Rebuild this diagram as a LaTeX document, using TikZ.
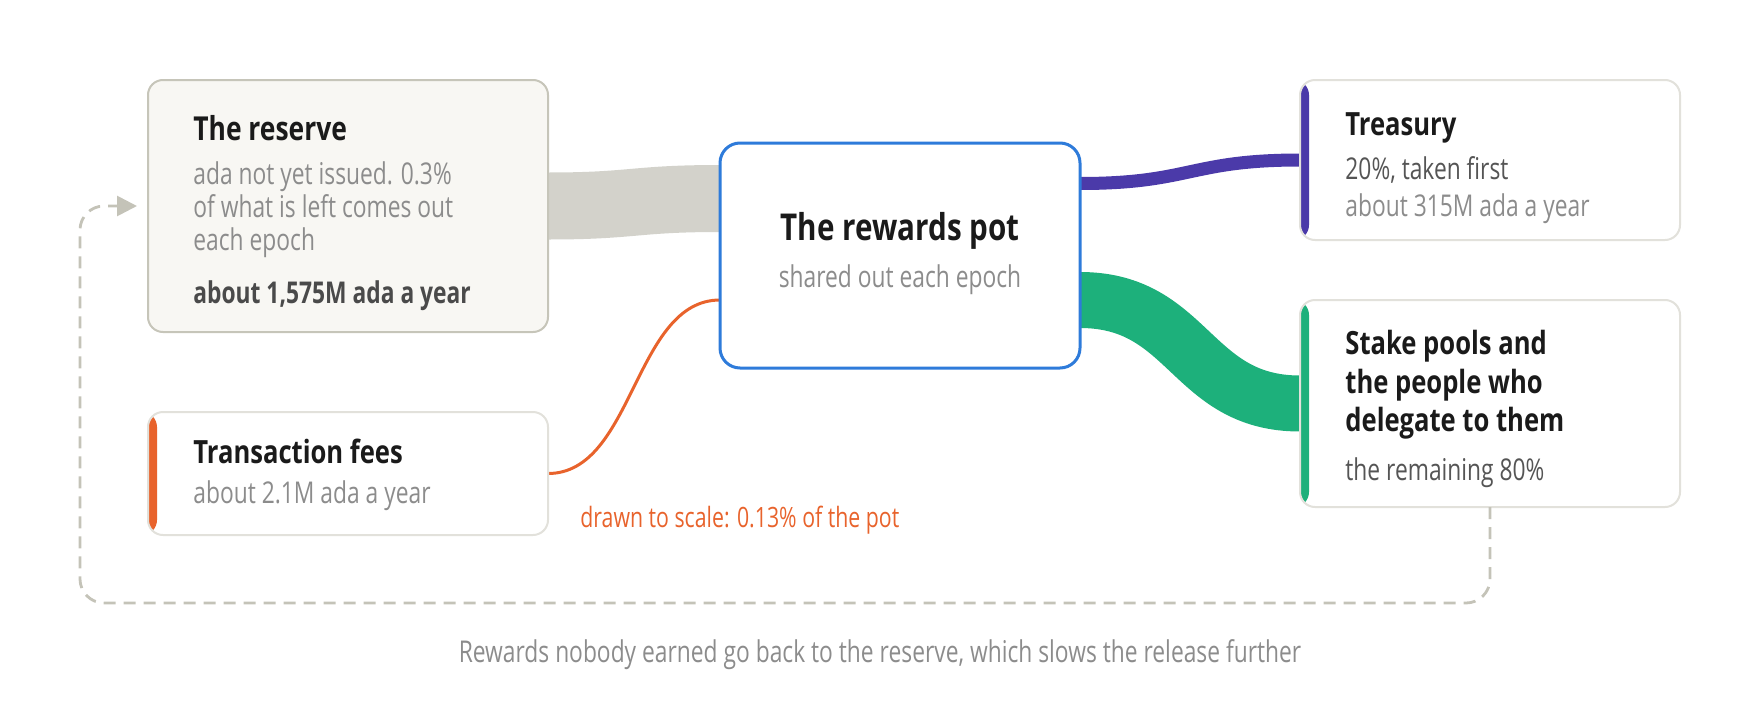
\documentclass[tikz,border=0pt]{standalone}
\usepackage{fontspec}
\setmainfont{Open Sans}[FakeStretch=0.76]
\newfontfamily\headfont{Open Sans}[FakeStretch=0.80]
\usetikzlibrary{arrows.meta,calc,backgrounds}

\definecolor{ink}{HTML}{1A1A1A}
\definecolor{softgray}{HTML}{8C8C8C}
\definecolor{midgray}{HTML}{555555}
\definecolor{boldgray}{HTML}{4A4A4A}
\definecolor{reservefill}{HTML}{F8F7F3}
\definecolor{reserveline}{HTML}{C6C5B9}
\definecolor{cardline}{HTML}{E2E1DB}
\definecolor{bandgray}{HTML}{D3D2CB}
\definecolor{potblue}{HTML}{2E7BDA}
\definecolor{treasurypurple}{HTML}{4B3AA9}
\definecolor{stakegreen}{HTML}{1DB07B}
\definecolor{feeorange}{HTML}{E8632C}
\definecolor{loopgray}{HTML}{C4C3B8}

\tikzset{
  box/.style={inner sep=0pt, outer sep=0pt, line width=1pt, rounded corners=7.5pt},
  card/.style={box, draw=cardline, fill=white,
    path picture={\fill[#1] (path picture bounding box.south west) rectangle ([xshift=4.5pt]path picture bounding box.north west);}},
  headtxt/.style={anchor=base west, inner sep=0pt, text=ink, font=\headfont\bfseries\fontsize{16}{19}\selectfont},
  bodytxt/.style={anchor=base west, inner sep=0pt, text=softgray, font=\fontsize{15}{18}\selectfont},
  flow/.style={line cap=butt},
  loopline/.style={draw=loopgray, line width=1.4pt, dash pattern=on 6pt off 4pt, rounded corners=12pt,
    -{Triangle[length=10pt,width=10pt]}},
}

\begin{document}
\begin{tikzpicture}[x=0.5pt, y=-0.5pt]
    \useasboundingbox (0,0) rectangle (1760,712);

    % Boxes
    \node[box, draw=reserveline, fill=reservefill, minimum width=200pt, minimum height=126pt] (reserve) at (348,206) {};
    \node[card=feeorange, minimum width=200pt, minimum height=61.5pt] (fees) at (348,473.5) {};
    \node[box, draw=potblue, line width=1.5pt, fill=white, rounded corners=10pt, minimum width=180pt, minimum height=112.5pt] (pot) at (900,255.5) {};
    \node[card=treasurypurple, minimum width=190pt, minimum height=80pt] (treasury) at (1490,160) {};
    \node[card=stakegreen, minimum width=190pt, minimum height=103.5pt] (stake) at (1490,403.5) {};

    % Flows, drawn to width
    \begin{scope}[on background layer]
        \draw[flow, bandgray, line width=33.5pt] (reserve.east) .. controls +(86,0) and +(-86,0) .. ($(pot.west)+(0,-57)$);
        \draw[flow, treasurypurple, line width=6.5pt] ($(pot.east)+(0,-72)$) .. controls +(110,0) and +(-110,0) .. (treasury.west);
        \draw[flow, stakegreen, line width=28pt] ($(pot.east)+(0,44.5)$) .. controls +(110,0) and +(-110,0) .. (stake.west);
        \draw[feeorange, line width=1.5pt] (fees.east) .. controls +(86,0) and +(-86,0) .. ($(pot.west)+(0,44.5)$);
    \end{scope}

    % Unearned rewards go back
    \draw[loopline] (stake.south) -- (stake.south |- 0,603) -- (80,603) -- (80,206) -- ($(reserve.west)+(-11,0)$);

    % Reserve
    \node[headtxt, font=\headfont\bfseries\fontsize{16.5}{19}\selectfont] (reservetitle) at (193,140) {The reserve};
    \node[bodytxt] (reserveline1) at (193,184) {ada not yet issued. 0.3\%};
    \node[bodytxt] (reserveline2) at (193,217) {of what is left comes out};
    \node[bodytxt] (reserveline3) at (193,250) {each epoch};
    \node[bodytxt, text=boldgray, font=\bfseries\fontsize{15}{18}\selectfont] (reserveyear) at (193,303) {about 1,575M ada a year};

    % Pot
    \node[headtxt, anchor=base, font=\headfont\bfseries\fontsize{18.5}{22}\selectfont] (pottitle) at (900,240) {The rewards pot};
    \node[bodytxt, anchor=base] (potsub) at (900,287) {shared out each epoch};

    % Treasury
    \node[headtxt] (treasurytitle) at (1345,135) {Treasury};
    \node[bodytxt, text=midgray] (treasuryshare) at (1345,179) {20\%, taken first};
    \node[bodytxt] (treasuryyear) at (1345,216) {about 315M ada a year};

    % Stake pools
    \node[headtxt] (staketitle1) at (1345,354) {Stake pools and};
    \node[headtxt] (staketitle2) at (1345,393) {the people who};
    \node[headtxt] (staketitle3) at (1345,431) {delegate to them};
    \node[bodytxt, text=midgray] (stakeshare) at (1345,480) {the remaining 80\%};

    % Fees
    \node[headtxt] (feestitle) at (193,463) {Transaction fees};
    \node[bodytxt] (feesyear) at (193,503) {about 2.1M ada a year};
    \node[bodytxt, text=feeorange, font=\fontsize{14}{17}\selectfont] (feesnote) at (580,527) {drawn to scale: 0.13\% of the pot};

    \node[bodytxt, anchor=base] (caption) at (880,662) {Rewards nobody earned go back to the reserve, which slows the release further};
\end{tikzpicture}
\end{document}
